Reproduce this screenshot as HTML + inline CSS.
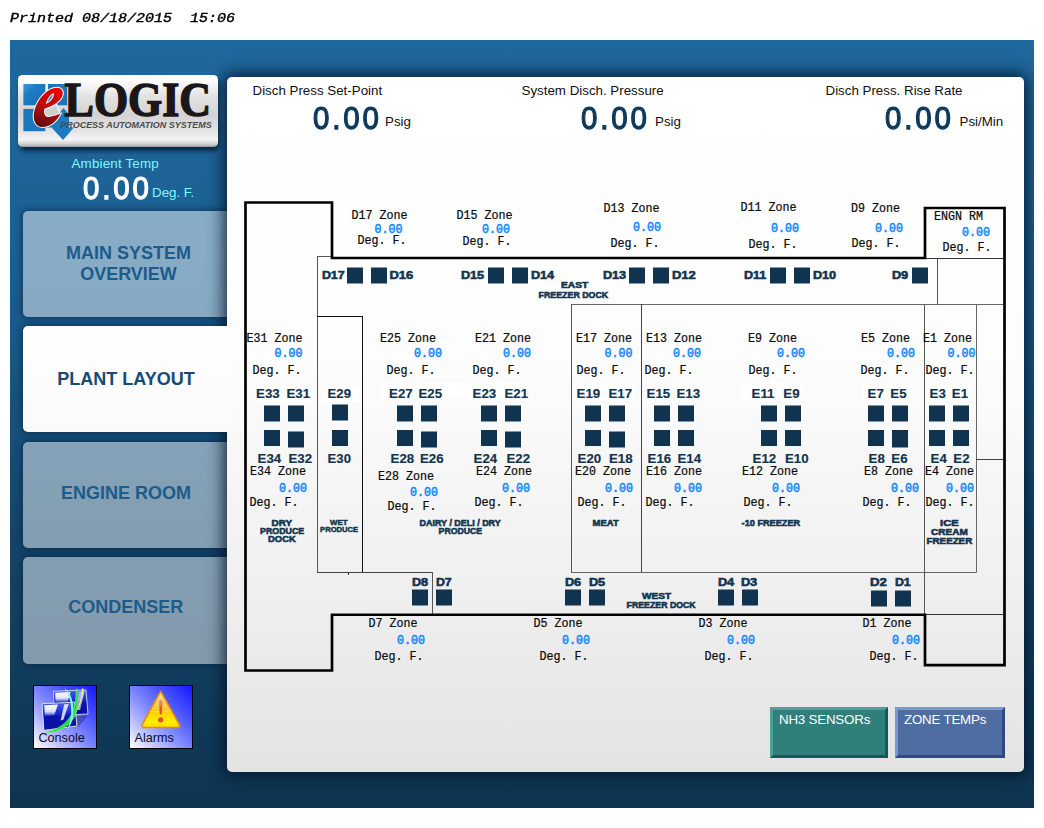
<!DOCTYPE html>
<html lang="en">
<head>
<meta charset="utf-8">
<title>Plant Layout</title>
<style>
html,body{margin:0;padding:0;background:#fff;}
body{width:1044px;height:828px;position:relative;overflow:hidden;font-family:"Liberation Sans",sans-serif;}
.abs{position:absolute;}
#printed{left:10px;top:10px;font:italic normal 15px/18px "Liberation Mono",monospace;color:#000;-webkit-text-stroke:0.45px #000;white-space:pre;transform:scaleY(0.8);transform-origin:0 14px;}
#frame{left:10px;top:40px;width:1024px;height:768px;background:linear-gradient(to bottom,#1f689d 0%,#1b5f91 30%,#13456b 65%,#0e3450 100%);overflow:hidden;}
#panel{left:217px;top:37px;width:797px;height:695px;border-radius:5px;background:linear-gradient(to bottom,#ffffff 0%,#fdfdfd 40%,#f1f1f1 70%,#e3e3e3 100%);box-shadow:0 0 16px 3px rgba(0,15,35,0.85);}
.nav{left:13px;width:215px;height:106.5px;border-radius:5px 0 0 5px;background:rgba(255,255,255,0.48);box-shadow:0 0 7px 1px rgba(5,30,55,0.6);display:flex;align-items:center;justify-content:center;text-align:center;font-weight:bold;font-size:18px;line-height:21px;color:#1c5b8b;}
.nav span{display:block;width:205px;position:relative;}
#tab{left:12.5px;top:286px;width:214.5px;height:106px;border-radius:5px 0 0 5px;background:linear-gradient(to bottom,#ffffff,#fafafa);box-shadow:0 0 7px 1px rgba(5,30,55,0.6);}
#tabfix{left:170px;top:286px;width:52px;height:106px;background:linear-gradient(to bottom,#ffffff,#fafafa);}
#tabtxt{left:12px;top:286.3px;width:208px;height:106px;display:flex;align-items:center;justify-content:center;font-weight:bold;font-size:18px;line-height:21px;color:#154a75;white-space:pre;}
.lbl{font-size:13.33px;line-height:16px;color:#111;white-space:pre;}
.big{font-size:31.7px;line-height:32px;color:#0f3a5d;-webkit-text-stroke:1.25px #0f3a5d;letter-spacing:3.1px;white-space:pre;transform:scaleX(0.93);transform-origin:0 0;}
.cy{color:#7df9ff;}
.btn{box-sizing:border-box;height:50.5px;color:#fff;font-size:13.33px;line-height:16px;padding:2px 0 0 6px;border-style:solid;border-width:3px;white-space:pre;letter-spacing:-0.2px;}
#nh3{left:760px;top:667.5px;width:118px;background:#2f7f7b;border-color:#4f9e98 #0f5c58 #0f5c58 #4f9e98;}
#zt{left:885px;top:667.5px;width:110px;background:#4f6da0;border-color:#7a98cf #2d4a7d #2d4a7d #7a98cf;}
.ico{width:62px;height:62px;border:1px solid #000;background:linear-gradient(to bottom left,#1717ff 0%,#4b55ff 30%,#8f98ff 60%,#ffffff 100%);}
.ico span{position:absolute;left:4.5px;top:45px;font-size:12.6px;line-height:14px;color:#0a0a30;}
svg text{white-space:pre;}
.z{font-family:"Liberation Mono",monospace;font-size:12.3px;fill:#0a0a0a;stroke:#0a0a0a;stroke-width:0.22px;}
.v{font-family:"Liberation Mono",monospace;font-size:12.3px;fill:#1186ff;stroke:#1186ff;stroke-width:0.5px;}
.e{font-family:"Liberation Sans",sans-serif;font-weight:bold;font-size:13.3px;fill:#12344f;stroke:#12344f;stroke-width:0.15px;}
.d{font-family:"Liberation Sans",sans-serif;font-weight:bold;font-size:10.9px;fill:#12344f;stroke:#12344f;stroke-width:0.55px;}
.a8{font-family:"Liberation Sans",sans-serif;font-weight:bold;font-size:8.5px;fill:#12344f;stroke:#12344f;stroke-width:0.55px;}
.a7{font-family:"Liberation Sans",sans-serif;font-weight:bold;font-size:7.4px;fill:#12344f;stroke:#12344f;stroke-width:0.45px;}
.a9{font-family:"Liberation Sans",sans-serif;font-weight:bold;font-size:9.2px;fill:#12344f;stroke:#12344f;stroke-width:0.6px;}
</style>
</head>
<body>
<div id="printed" class="abs">Printed 08/18/2015  15:06</div>
<div id="frame" class="abs">
  <div class="nav abs" style="top:170.5px"><span style="left:-2px;top:0.4px;line-height:21.5px">MAIN SYSTEM<br>OVERVIEW</span></div>
  <div class="nav abs" style="top:401.5px"><span style="left:-4.5px;top:-1px">ENGINE ROOM</span></div>
  <div class="nav abs" style="top:517px"><span style="left:-4.8px;top:-2.3px">CONDENSER</span></div>
  <div id="tab" class="abs"></div>
  <div id="panel" class="abs"></div>
  <div id="tabfix" class="abs"></div>
  <div id="tabtxt" class="abs">PLANT LAYOUT</div>
  <!--LOGO-->
  <div class="abs lbl cy" style="left:61.5px;top:116.1px;letter-spacing:0.2px;">Ambient Temp</div>
  <div class="abs big" style="left:72.6px;top:132.3px;color:#fff;-webkit-text-stroke-color:#fff;">0.00</div>
  <div class="abs lbl cy" style="left:142px;top:145px;">Deg. F.</div>
  <div class="abs ico" style="left:23px;top:645px;"><!--CONSOLE--><span>Console</span></div>
  <div class="abs ico" style="left:119px;top:645px;"><!--ALARM--><span>Alarms</span></div>
</div>
<div class="abs lbl" style="left:252.5px;top:82.6px;">Disch Press Set-Point</div>
<div class="abs big" style="left:312.6px;top:102.2px;">0.00</div>
<div class="abs lbl" style="left:385px;top:113.5px;">Psig</div>
<div class="abs lbl" style="left:521.5px;top:82.6px;">System Disch. Pressure</div>
<div class="abs big" style="left:581.2px;top:102.2px;">0.00</div>
<div class="abs lbl" style="left:655px;top:113.5px;">Psig</div>
<div class="abs lbl" style="left:825.5px;top:82.6px;">Disch Press. Rise Rate</div>
<div class="abs big" style="left:885.2px;top:102.2px;">0.00</div>
<div class="abs lbl" style="left:959.5px;top:113.5px;">Psi/Min</div>
<div id="nh3" class="abs btn" style="left:770px;top:707px;">NH3 SENSORs</div>
<div id="zt" class="abs btn" style="left:895px;top:707px;">ZONE TEMPs</div>
<svg class="abs" style="left:0;top:0" width="1044" height="828" viewBox="0 0 1044 828">
<line x1="317.5" y1="256" x2="317.5" y2="572.5" stroke="#555" stroke-width="1"/>
<line x1="317" y1="256.5" x2="331" y2="256.5" stroke="#555" stroke-width="1"/>
<line x1="317" y1="316.5" x2="363" y2="316.5" stroke="#111" stroke-width="1"/>
<line x1="362.5" y1="316" x2="362.5" y2="572.5" stroke="#111" stroke-width="1"/>
<line x1="317" y1="572.5" x2="432.5" y2="572.5" stroke="#444" stroke-width="1"/>
<line x1="432.5" y1="572" x2="432.5" y2="614" stroke="#555" stroke-width="1"/>
<line x1="348.5" y1="572" x2="348.5" y2="575" stroke="#333" stroke-width="1"/>
<line x1="571.5" y1="304" x2="571.5" y2="572.5" stroke="#555" stroke-width="1"/>
<line x1="571" y1="304.5" x2="1003" y2="304.5" stroke="#666" stroke-width="1"/>
<line x1="641.5" y1="304" x2="641.5" y2="572.5" stroke="#444" stroke-width="1"/>
<line x1="571" y1="572.5" x2="976.5" y2="572.5" stroke="#666" stroke-width="1"/>
<line x1="924.5" y1="304" x2="924.5" y2="614" stroke="#555" stroke-width="1"/>
<line x1="976.5" y1="304" x2="976.5" y2="572.5" stroke="#666" stroke-width="1"/>
<line x1="976" y1="459.5" x2="1003" y2="459.5" stroke="#444" stroke-width="1"/>
<line x1="937.5" y1="258" x2="937.5" y2="304.5" stroke="#555" stroke-width="1"/>
<line x1="926" y1="258.5" x2="1003" y2="258.5" stroke="#333" stroke-width="1"/>
<line x1="926" y1="614.5" x2="1003" y2="614.5" stroke="#333" stroke-width="1"/>
<g fill="none" stroke="#000" stroke-width="2.7" stroke-linejoin="miter" stroke-linecap="butt">
<path d="M332 613.4 V670.5 H245.5 V202.5 H332 V258 H925 V208 H1004.5 V665.2 H925 V614.75 H330.65"/>
</g>
<rect x="347" y="267.5" width="16" height="16" fill="#10344f"/>
<rect x="371" y="267.5" width="16" height="16" fill="#10344f"/>
<rect x="488" y="267.5" width="16" height="16" fill="#10344f"/>
<rect x="512" y="267.5" width="16" height="16" fill="#10344f"/>
<rect x="629" y="267.5" width="16" height="16" fill="#10344f"/>
<rect x="653" y="267.5" width="16" height="16" fill="#10344f"/>
<rect x="770" y="267.5" width="16" height="16" fill="#10344f"/>
<rect x="794" y="267.5" width="16" height="16" fill="#10344f"/>
<rect x="912" y="267.5" width="16" height="16" fill="#10344f"/>
<rect x="264" y="405.5" width="16" height="16" fill="#10344f"/>
<rect x="288" y="405.5" width="16" height="16" fill="#10344f"/>
<rect x="264" y="430" width="16" height="16" fill="#10344f"/>
<rect x="288" y="431.5" width="16" height="16" fill="#10344f"/>
<rect x="397" y="405.5" width="16" height="16" fill="#10344f"/>
<rect x="421" y="405.5" width="16" height="16" fill="#10344f"/>
<rect x="397" y="430" width="16" height="16" fill="#10344f"/>
<rect x="421" y="431.5" width="16" height="16" fill="#10344f"/>
<rect x="481" y="405.5" width="16" height="16" fill="#10344f"/>
<rect x="505" y="405.5" width="16" height="16" fill="#10344f"/>
<rect x="481" y="430" width="16" height="16" fill="#10344f"/>
<rect x="505" y="431.5" width="16" height="16" fill="#10344f"/>
<rect x="585" y="405.5" width="16" height="16" fill="#10344f"/>
<rect x="609" y="405.5" width="16" height="16" fill="#10344f"/>
<rect x="585" y="430" width="16" height="16" fill="#10344f"/>
<rect x="609" y="431.5" width="16" height="16" fill="#10344f"/>
<rect x="654" y="405.5" width="16" height="16" fill="#10344f"/>
<rect x="678" y="405.5" width="16" height="16" fill="#10344f"/>
<rect x="654" y="430" width="16" height="16" fill="#10344f"/>
<rect x="678" y="430" width="16" height="16" fill="#10344f"/>
<rect x="761" y="405.5" width="16" height="16" fill="#10344f"/>
<rect x="785" y="405.5" width="16" height="16" fill="#10344f"/>
<rect x="761" y="430" width="16" height="16" fill="#10344f"/>
<rect x="785" y="430" width="16" height="16" fill="#10344f"/>
<rect x="868" y="405.5" width="16" height="16" fill="#10344f"/>
<rect x="892" y="405.5" width="16" height="16" fill="#10344f"/>
<rect x="868" y="430" width="16" height="16" fill="#10344f"/>
<rect x="892" y="430" width="16" height="16" fill="#10344f"/>
<rect x="929" y="405.5" width="16" height="16" fill="#10344f"/>
<rect x="953" y="405.5" width="16" height="16" fill="#10344f"/>
<rect x="929" y="430" width="16" height="16" fill="#10344f"/>
<rect x="953" y="430" width="16" height="16" fill="#10344f"/>
<rect x="892" y="430" width="16" height="17.5" fill="#10344f"/>
<rect x="332" y="404.5" width="16" height="16" fill="#10344f"/>
<rect x="332" y="430" width="16" height="16" fill="#10344f"/>
<rect x="412" y="589.5" width="16" height="16" fill="#10344f"/>
<rect x="436" y="589.5" width="16" height="16" fill="#10344f"/>
<rect x="565" y="589.5" width="16" height="16" fill="#10344f"/>
<rect x="589" y="589.5" width="16" height="16" fill="#10344f"/>
<rect x="718" y="589.5" width="16" height="16" fill="#10344f"/>
<rect x="742" y="589.5" width="16" height="16" fill="#10344f"/>
<rect x="871" y="590.5" width="16" height="16" fill="#10344f"/>
<rect x="895" y="590.5" width="16" height="16" fill="#10344f"/>
<rect x="255" y="386.5" width="55" height="15.5" fill="#fff" opacity="0.85"/>
<rect x="321" y="386.5" width="38" height="15.5" fill="#fff" opacity="0.85"/>
<rect x="380" y="383" width="127" height="15.5" fill="#fff" opacity="0.85"/>
<rect x="473" y="383" width="54" height="15.5" fill="#fff" opacity="0.85"/>
<rect x="575" y="385" width="59" height="15" fill="#fff" opacity="0.85"/>
<rect x="645" y="385" width="57" height="15" fill="#fff" opacity="0.85"/>
<rect x="740" y="383" width="62" height="16" fill="#fff" opacity="0.85"/>
<rect x="862" y="385" width="50" height="15" fill="#fff" opacity="0.85"/>
<rect x="927" y="385" width="44" height="15" fill="#fff" opacity="0.85"/>
<text x="351.5" y="218.5" class="z" textLength="56" lengthAdjust="spacingAndGlyphs" xml:space="preserve">D17 Zone</text>
<text x="374.5" y="232.5" class="v" textLength="28" lengthAdjust="spacingAndGlyphs" xml:space="preserve">0.00</text>
<text x="357.5" y="244" class="z" textLength="49" lengthAdjust="spacingAndGlyphs" xml:space="preserve">Deg. F.</text>
<text x="456.5" y="219" class="z" textLength="56" lengthAdjust="spacingAndGlyphs" xml:space="preserve">D15 Zone</text>
<text x="482.0" y="233" class="v" textLength="28" lengthAdjust="spacingAndGlyphs" xml:space="preserve">0.00</text>
<text x="462.5" y="245" class="z" textLength="49" lengthAdjust="spacingAndGlyphs" xml:space="preserve">Deg. F.</text>
<text x="603.5" y="212" class="z" textLength="56" lengthAdjust="spacingAndGlyphs" xml:space="preserve">D13 Zone</text>
<text x="633.0" y="231" class="v" textLength="28" lengthAdjust="spacingAndGlyphs" xml:space="preserve">0.00</text>
<text x="610.5" y="247" class="z" textLength="49" lengthAdjust="spacingAndGlyphs" xml:space="preserve">Deg. F.</text>
<text x="740.5" y="211" class="z" textLength="56" lengthAdjust="spacingAndGlyphs" xml:space="preserve">D11 Zone</text>
<text x="771.0" y="232" class="v" textLength="28" lengthAdjust="spacingAndGlyphs" xml:space="preserve">0.00</text>
<text x="748.5" y="248" class="z" textLength="49" lengthAdjust="spacingAndGlyphs" xml:space="preserve">Deg. F.</text>
<text x="851.0" y="212" class="z" textLength="49" lengthAdjust="spacingAndGlyphs" xml:space="preserve">D9 Zone</text>
<text x="875.0" y="232" class="v" textLength="28" lengthAdjust="spacingAndGlyphs" xml:space="preserve">0.00</text>
<text x="851.5" y="246.5" class="z" textLength="49" lengthAdjust="spacingAndGlyphs" xml:space="preserve">Deg. F.</text>
<text x="934.0" y="220" class="z" textLength="49" lengthAdjust="spacingAndGlyphs" xml:space="preserve">ENGN RM</text>
<text x="962.0" y="236" class="v" textLength="28" lengthAdjust="spacingAndGlyphs" xml:space="preserve">0.00</text>
<text x="942.5" y="251" class="z" textLength="49" lengthAdjust="spacingAndGlyphs" xml:space="preserve">Deg. F.</text>
<text x="246.5" y="342" class="z" textLength="56" lengthAdjust="spacingAndGlyphs" xml:space="preserve">E31 Zone</text>
<text x="274.5" y="357" class="v" textLength="28" lengthAdjust="spacingAndGlyphs" xml:space="preserve">0.00</text>
<text x="252.5" y="374" class="z" textLength="49" lengthAdjust="spacingAndGlyphs" xml:space="preserve">Deg. F.</text>
<text x="380.0" y="342" class="z" textLength="56" lengthAdjust="spacingAndGlyphs" xml:space="preserve">E25 Zone</text>
<text x="414.0" y="357" class="v" textLength="28" lengthAdjust="spacingAndGlyphs" xml:space="preserve">0.00</text>
<text x="386.5" y="374" class="z" textLength="49" lengthAdjust="spacingAndGlyphs" xml:space="preserve">Deg. F.</text>
<text x="475.0" y="342" class="z" textLength="56" lengthAdjust="spacingAndGlyphs" xml:space="preserve">E21 Zone</text>
<text x="503.0" y="357" class="v" textLength="28" lengthAdjust="spacingAndGlyphs" xml:space="preserve">0.00</text>
<text x="472.5" y="374" class="z" textLength="49" lengthAdjust="spacingAndGlyphs" xml:space="preserve">Deg. F.</text>
<text x="576.0" y="342" class="z" textLength="56" lengthAdjust="spacingAndGlyphs" xml:space="preserve">E17 Zone</text>
<text x="604.5" y="357" class="v" textLength="28" lengthAdjust="spacingAndGlyphs" xml:space="preserve">0.00</text>
<text x="576.5" y="374" class="z" textLength="49" lengthAdjust="spacingAndGlyphs" xml:space="preserve">Deg. F.</text>
<text x="646.0" y="342" class="z" textLength="56" lengthAdjust="spacingAndGlyphs" xml:space="preserve">E13 Zone</text>
<text x="673.0" y="357" class="v" textLength="28" lengthAdjust="spacingAndGlyphs" xml:space="preserve">0.00</text>
<text x="644.5" y="374" class="z" textLength="49" lengthAdjust="spacingAndGlyphs" xml:space="preserve">Deg. F.</text>
<text x="748.0" y="342" class="z" textLength="49" lengthAdjust="spacingAndGlyphs" xml:space="preserve">E9 Zone</text>
<text x="777.0" y="357" class="v" textLength="28" lengthAdjust="spacingAndGlyphs" xml:space="preserve">0.00</text>
<text x="748.5" y="374" class="z" textLength="49" lengthAdjust="spacingAndGlyphs" xml:space="preserve">Deg. F.</text>
<text x="861.0" y="342" class="z" textLength="49" lengthAdjust="spacingAndGlyphs" xml:space="preserve">E5 Zone</text>
<text x="887.0" y="357" class="v" textLength="28" lengthAdjust="spacingAndGlyphs" xml:space="preserve">0.00</text>
<text x="860.5" y="374" class="z" textLength="49" lengthAdjust="spacingAndGlyphs" xml:space="preserve">Deg. F.</text>
<text x="923.0" y="342" class="z" textLength="49" lengthAdjust="spacingAndGlyphs" xml:space="preserve">E1 Zone</text>
<text x="947.5" y="357" class="v" textLength="28" lengthAdjust="spacingAndGlyphs" xml:space="preserve">0.00</text>
<text x="925.5" y="374" class="z" textLength="49" lengthAdjust="spacingAndGlyphs" xml:space="preserve">Deg. F.</text>
<text x="250.0" y="475" class="z" textLength="56" lengthAdjust="spacingAndGlyphs" xml:space="preserve">E34 Zone</text>
<text x="279.0" y="491.5" class="v" textLength="28" lengthAdjust="spacingAndGlyphs" xml:space="preserve">0.00</text>
<text x="249.5" y="506" class="z" textLength="49" lengthAdjust="spacingAndGlyphs" xml:space="preserve">Deg. F.</text>
<text x="378.0" y="479.5" class="z" textLength="56" lengthAdjust="spacingAndGlyphs" xml:space="preserve">E28 Zone</text>
<text x="410.0" y="495.5" class="v" textLength="28" lengthAdjust="spacingAndGlyphs" xml:space="preserve">0.00</text>
<text x="387.5" y="510" class="z" textLength="49" lengthAdjust="spacingAndGlyphs" xml:space="preserve">Deg. F.</text>
<text x="476.0" y="475" class="z" textLength="56" lengthAdjust="spacingAndGlyphs" xml:space="preserve">E24 Zone</text>
<text x="502.0" y="491.5" class="v" textLength="28" lengthAdjust="spacingAndGlyphs" xml:space="preserve">0.00</text>
<text x="474.5" y="506" class="z" textLength="49" lengthAdjust="spacingAndGlyphs" xml:space="preserve">Deg. F.</text>
<text x="575.0" y="475" class="z" textLength="56" lengthAdjust="spacingAndGlyphs" xml:space="preserve">E20 Zone</text>
<text x="605.0" y="491.5" class="v" textLength="28" lengthAdjust="spacingAndGlyphs" xml:space="preserve">0.00</text>
<text x="577.5" y="506" class="z" textLength="49" lengthAdjust="spacingAndGlyphs" xml:space="preserve">Deg. F.</text>
<text x="646.0" y="475" class="z" textLength="56" lengthAdjust="spacingAndGlyphs" xml:space="preserve">E16 Zone</text>
<text x="674.0" y="491.5" class="v" textLength="28" lengthAdjust="spacingAndGlyphs" xml:space="preserve">0.00</text>
<text x="645.5" y="506" class="z" textLength="49" lengthAdjust="spacingAndGlyphs" xml:space="preserve">Deg. F.</text>
<text x="742.0" y="475" class="z" textLength="56" lengthAdjust="spacingAndGlyphs" xml:space="preserve">E12 Zone</text>
<text x="772.0" y="491.5" class="v" textLength="28" lengthAdjust="spacingAndGlyphs" xml:space="preserve">0.00</text>
<text x="743.5" y="506" class="z" textLength="49" lengthAdjust="spacingAndGlyphs" xml:space="preserve">Deg. F.</text>
<text x="864.0" y="475" class="z" textLength="49" lengthAdjust="spacingAndGlyphs" xml:space="preserve">E8 Zone</text>
<text x="891.0" y="491.5" class="v" textLength="28" lengthAdjust="spacingAndGlyphs" xml:space="preserve">0.00</text>
<text x="862.5" y="506" class="z" textLength="49" lengthAdjust="spacingAndGlyphs" xml:space="preserve">Deg. F.</text>
<text x="925.0" y="475" class="z" textLength="49" lengthAdjust="spacingAndGlyphs" xml:space="preserve">E4 Zone</text>
<text x="946.0" y="491.5" class="v" textLength="28" lengthAdjust="spacingAndGlyphs" xml:space="preserve">0.00</text>
<text x="925.5" y="506" class="z" textLength="49" lengthAdjust="spacingAndGlyphs" xml:space="preserve">Deg. F.</text>
<text x="368.5" y="627" class="z" textLength="49" lengthAdjust="spacingAndGlyphs" xml:space="preserve">D7 Zone</text>
<text x="397.0" y="644" class="v" textLength="28" lengthAdjust="spacingAndGlyphs" xml:space="preserve">0.00</text>
<text x="374.5" y="660" class="z" textLength="49" lengthAdjust="spacingAndGlyphs" xml:space="preserve">Deg. F.</text>
<text x="533.5" y="627" class="z" textLength="49" lengthAdjust="spacingAndGlyphs" xml:space="preserve">D5 Zone</text>
<text x="562.0" y="644" class="v" textLength="28" lengthAdjust="spacingAndGlyphs" xml:space="preserve">0.00</text>
<text x="539.5" y="660" class="z" textLength="49" lengthAdjust="spacingAndGlyphs" xml:space="preserve">Deg. F.</text>
<text x="698.5" y="627" class="z" textLength="49" lengthAdjust="spacingAndGlyphs" xml:space="preserve">D3 Zone</text>
<text x="727.0" y="644" class="v" textLength="28" lengthAdjust="spacingAndGlyphs" xml:space="preserve">0.00</text>
<text x="704.5" y="660" class="z" textLength="49" lengthAdjust="spacingAndGlyphs" xml:space="preserve">Deg. F.</text>
<text x="862.5" y="627" class="z" textLength="49" lengthAdjust="spacingAndGlyphs" xml:space="preserve">D1 Zone</text>
<text x="892.0" y="644" class="v" textLength="28" lengthAdjust="spacingAndGlyphs" xml:space="preserve">0.00</text>
<text x="869.5" y="660" class="z" textLength="49" lengthAdjust="spacingAndGlyphs" xml:space="preserve">Deg. F.</text>
<text x="256.1" y="397.5" class="e" xml:space="preserve">E33</text>
<text x="310.1" y="397.5" class="e" text-anchor="end" xml:space="preserve">E31</text>
<text x="327.6" y="397.5" class="e" textLength="23.4" lengthAdjust="spacingAndGlyphs" xml:space="preserve">E29</text>
<text x="389.1" y="397.5" class="e" xml:space="preserve">E27</text>
<text x="442.1" y="397.5" class="e" text-anchor="end" xml:space="preserve">E25</text>
<text x="472.6" y="397.5" class="e" xml:space="preserve">E23</text>
<text x="528.1" y="397.5" class="e" text-anchor="end" xml:space="preserve">E21</text>
<text x="576.6" y="397.5" class="e" xml:space="preserve">E19</text>
<text x="632.1" y="397.5" class="e" text-anchor="end" xml:space="preserve">E17</text>
<text x="646.6" y="397.5" class="e" xml:space="preserve">E15</text>
<text x="700.1" y="397.5" class="e" text-anchor="end" xml:space="preserve">E13</text>
<text x="751.6" y="397.5" class="e" xml:space="preserve">E11</text>
<text x="799.6" y="397.5" class="e" text-anchor="end" xml:space="preserve">E9</text>
<text x="867.6" y="397.5" class="e" xml:space="preserve">E7</text>
<text x="906.6" y="397.5" class="e" text-anchor="end" xml:space="preserve">E5</text>
<text x="929.6" y="397.5" class="e" xml:space="preserve">E3</text>
<text x="968.1" y="397.5" class="e" text-anchor="end" xml:space="preserve">E1</text>
<text x="257.6" y="462.5" class="e" xml:space="preserve">E34</text>
<text x="312.1" y="462.5" class="e" text-anchor="end" xml:space="preserve">E32</text>
<text x="327.6" y="462.5" class="e" textLength="23.4" lengthAdjust="spacingAndGlyphs" xml:space="preserve">E30</text>
<text x="390.6" y="462.5" class="e" xml:space="preserve">E28</text>
<text x="443.6" y="462.5" class="e" text-anchor="end" xml:space="preserve">E26</text>
<text x="473.6" y="462.5" class="e" xml:space="preserve">E24</text>
<text x="530.1" y="462.5" class="e" text-anchor="end" xml:space="preserve">E22</text>
<text x="577.6" y="462.5" class="e" xml:space="preserve">E20</text>
<text x="632.6" y="462.5" class="e" text-anchor="end" xml:space="preserve">E18</text>
<text x="647.6" y="462.5" class="e" xml:space="preserve">E16</text>
<text x="701.1" y="462.5" class="e" text-anchor="end" xml:space="preserve">E14</text>
<text x="752.6" y="462.5" class="e" xml:space="preserve">E12</text>
<text x="808.6" y="462.5" class="e" text-anchor="end" xml:space="preserve">E10</text>
<text x="868.6" y="462.5" class="e" xml:space="preserve">E8</text>
<text x="907.6" y="462.5" class="e" text-anchor="end" xml:space="preserve">E6</text>
<text x="930.6" y="462.5" class="e" xml:space="preserve">E4</text>
<text x="969.6" y="462.5" class="e" text-anchor="end" xml:space="preserve">E2</text>
<text x="321.9" y="279" class="d" textLength="22.8" lengthAdjust="spacingAndGlyphs" xml:space="preserve">D17</text>
<text x="389.4" y="279" class="d" textLength="23.8" lengthAdjust="spacingAndGlyphs" xml:space="preserve">D16</text>
<text x="460.9" y="279" class="d" textLength="23.3" lengthAdjust="spacingAndGlyphs" xml:space="preserve">D15</text>
<text x="530.9" y="279" class="d" textLength="23.3" lengthAdjust="spacingAndGlyphs" xml:space="preserve">D14</text>
<text x="602.9" y="279" class="d" textLength="23.3" lengthAdjust="spacingAndGlyphs" xml:space="preserve">D13</text>
<text x="671.9" y="279" class="d" textLength="23.8" lengthAdjust="spacingAndGlyphs" xml:space="preserve">D12</text>
<text x="743.9" y="279" class="d" textLength="22.3" lengthAdjust="spacingAndGlyphs" xml:space="preserve">D11</text>
<text x="812.9" y="279" class="d" textLength="23.3" lengthAdjust="spacingAndGlyphs" xml:space="preserve">D10</text>
<text x="891.9" y="279" class="d" textLength="16.3" lengthAdjust="spacingAndGlyphs" xml:space="preserve">D9</text>
<text x="411.9" y="585.5" class="d" textLength="16.3" lengthAdjust="spacingAndGlyphs" xml:space="preserve">D8</text>
<text x="435.9" y="585.5" class="d" textLength="15.8" lengthAdjust="spacingAndGlyphs" xml:space="preserve">D7</text>
<text x="564.9" y="585.5" class="d" textLength="16.3" lengthAdjust="spacingAndGlyphs" xml:space="preserve">D6</text>
<text x="588.9" y="585.5" class="d" textLength="16.3" lengthAdjust="spacingAndGlyphs" xml:space="preserve">D5</text>
<text x="717.9" y="585.5" class="d" textLength="16.3" lengthAdjust="spacingAndGlyphs" xml:space="preserve">D4</text>
<text x="740.9" y="585.5" class="d" textLength="16.3" lengthAdjust="spacingAndGlyphs" xml:space="preserve">D3</text>
<text x="869.9" y="586" class="d" textLength="16.8" lengthAdjust="spacingAndGlyphs" xml:space="preserve">D2</text>
<text x="894.9" y="586" class="d" textLength="15.8" lengthAdjust="spacingAndGlyphs" xml:space="preserve">D1</text>
<text x="561.1" y="287.5" class="a8" textLength="27.1" lengthAdjust="spacingAndGlyphs" xml:space="preserve">EAST</text>
<text x="538.6" y="298" class="a8" textLength="69.6" lengthAdjust="spacingAndGlyphs" xml:space="preserve">FREEZER DOCK</text>
<text x="271.6" y="526" class="a8" textLength="20.6" lengthAdjust="spacingAndGlyphs" xml:space="preserve">DRY</text>
<text x="260.1" y="534" class="a8" textLength="44.1" lengthAdjust="spacingAndGlyphs" xml:space="preserve">PRODUCE</text>
<text x="268.1" y="542" class="a8" textLength="27.6" lengthAdjust="spacingAndGlyphs" xml:space="preserve">DOCK</text>
<text x="330.1" y="525" class="a7" textLength="17.6" lengthAdjust="spacingAndGlyphs" xml:space="preserve">WET</text>
<text x="320.1" y="532" class="a7" textLength="38.1" lengthAdjust="spacingAndGlyphs" xml:space="preserve">PRODUCE</text>
<text x="419.6" y="526" class="a8" textLength="81.1" lengthAdjust="spacingAndGlyphs" xml:space="preserve">DAIRY / DELI / DRY</text>
<text x="438.6" y="534" class="a8" textLength="43.6" lengthAdjust="spacingAndGlyphs" xml:space="preserve">PRODUCE</text>
<text x="592.6" y="526" class="a8" textLength="26.1" lengthAdjust="spacingAndGlyphs" xml:space="preserve">MEAT</text>
<text x="741.6" y="526" class="a8" textLength="58.6" lengthAdjust="spacingAndGlyphs" xml:space="preserve">-10 FREEZER</text>
<text x="940.1" y="526" class="a9" textLength="18.6" lengthAdjust="spacingAndGlyphs" xml:space="preserve">ICE</text>
<text x="931.1" y="535" class="a9" textLength="36.6" lengthAdjust="spacingAndGlyphs" xml:space="preserve">CREAM</text>
<text x="926.6" y="544" class="a9" textLength="45.6" lengthAdjust="spacingAndGlyphs" xml:space="preserve">FREEZER</text>
<text x="642.1" y="599" class="a8" textLength="29.1" lengthAdjust="spacingAndGlyphs" xml:space="preserve">WEST</text>
<text x="626.6" y="608" class="a8" textLength="69.1" lengthAdjust="spacingAndGlyphs" xml:space="preserve">FREEZER DOCK</text>
<defs>
<linearGradient id="lgPlate" x1="0" y1="0" x2="0" y2="1">
<stop offset="0" stop-color="#ffffff"/><stop offset="0.10" stop-color="#fbfbfb"/><stop offset="0.30" stop-color="#e2e2e2"/>
<stop offset="0.55" stop-color="#d3d3d3"/><stop offset="0.78" stop-color="#e4e4e4"/><stop offset="0.90" stop-color="#f4f4f4"/>
<stop offset="0.96" stop-color="#d0d0d0"/><stop offset="1" stop-color="#9a9a9a"/></linearGradient>
<linearGradient id="lgSq" x1="0" y1="0" x2="1" y2="1"><stop offset="0" stop-color="#3b9ade"/><stop offset="0.35" stop-color="#1c7cc3"/><stop offset="1" stop-color="#166db0"/></linearGradient>
<linearGradient id="lgE" x1="0.6" y1="0" x2="0.3" y2="1"><stop offset="0" stop-color="#ea0000"/><stop offset="0.45" stop-color="#c40808"/><stop offset="1" stop-color="#5e0a0a"/></linearGradient>
<filter id="fSh" x="-10%" y="-20%" width="120%" height="150%"><feGaussianBlur stdDeviation="2.2"/></filter>
<filter id="fSoft" x="-10%" y="-10%" width="120%" height="120%"><feGaussianBlur stdDeviation="0.35"/></filter>
</defs>
<rect x="20" y="80" width="199" height="71" rx="5" fill="#04182c" opacity="0.75" filter="url(#fSh)"/>
<rect x="18" y="75" width="200" height="72" rx="4.5" fill="url(#lgPlate)"/>
<g filter="url(#fSoft)">
<rect x="23.4" y="84" width="21.9" height="21.3" fill="url(#lgSq)"/>
<rect x="48" y="84" width="19.2" height="21.3" fill="#1a76bc"/>
<rect x="23.4" y="108.9" width="21.9" height="22.3" fill="#1a78be"/>
<path d="M63.6 108 L67.6 113 L69 113 L69 127.6 L73.9 127.6 L63.1 139.9 L51.5 127.6 L45.3 127.6 L45.3 120 L57 120 L57 113 L59.4 113 Z" fill="#1b7ac0"/>
<g transform="translate(63.6 127.5) scale(1.08 1.02) translate(-63.6 -127.5)">
<path d="M45.88,109.75 C50.17,108.41 54.64,106.17 57.32,104.83 L60.00,113.32 C56.43,116.00 52.85,118.68 49.28,118.50 C46.15,117.79 45.26,113.32 45.88,109.75 Z" fill="#cfcfcf" stroke="#fff" stroke-width="1"/>
<path d="M60.72,114.04 C57.77,120.02 52.41,126.55 44.81,126.90 C37.21,127.17 34.98,119.58 36.32,112.43 C37.84,103.49 44.81,92.32 54.19,89.01 C59.55,87.23 63.76,90.09 62.68,95.45 C61.61,101.26 53.75,106.62 45.88,109.03 C44.63,113.32 46.42,117.61 50.17,117.25 C54.19,116.72 57.77,114.66 60.72,114.04 Z M47.04,104.38 C47.94,100.36 51.24,95.00 53.92,93.84 C55.35,93.66 54.46,97.41 52.85,99.92 C51.24,102.42 49.10,103.94 47.04,104.38 Z" fill="url(#lgE)" fill-rule="evenodd" stroke="#f4f4f4" stroke-width="2" paint-order="stroke"/>
</g>
</g>
<text x="64.6" y="116.2" font-family="Liberation Serif,serif" font-weight="bold" font-size="48.5" fill="#1b1718" stroke="#1b1718" stroke-width="1.5" textLength="146.5" lengthAdjust="spacingAndGlyphs">LOGIC</text>
<text x="60.2" y="127.6" font-family="Liberation Sans,sans-serif" font-weight="bold" font-style="italic" font-size="8.9" fill="#4b4b4b" textLength="151.5" lengthAdjust="spacingAndGlyphs" xml:space="preserve">PROCESS AUTOMATION SYSTEMS</text>
<defs>
<linearGradient id="lgMon" x1="0" y1="0" x2="0" y2="1"><stop offset="0" stop-color="#4a62ee"/><stop offset="0.45" stop-color="#1020c8"/><stop offset="0.5" stop-color="#0a12a8"/><stop offset="1" stop-color="#0a10a0"/></linearGradient>
<linearGradient id="lgGloss" x1="0" y1="0" x2="0" y2="1"><stop offset="0" stop-color="#fff" stop-opacity="1"/><stop offset="0.6" stop-color="#fff" stop-opacity="0.85"/><stop offset="1" stop-color="#fff" stop-opacity="0.1"/></linearGradient>
<filter id="fB" x="-20%" y="-20%" width="140%" height="140%"><feGaussianBlur stdDeviation="0.5"/></filter>
</defs>
<polygon points="53.36,691.32 85.97,689.96 87.96,713.97 54.45,715.51" fill="url(#lgMon)" stroke="#d8d8e0" stroke-width="0.9"/>
<polygon points="55.17,692.68 70.57,692.05 67.86,701.74 55.54,702.28" fill="url(#lgGloss)"/>
<polygon points="78.72,691.59 84.61,691.23 80.08,709.89 76.91,710.07" fill="#fff" opacity="0.6"/>
<polygon points="45.21,730.72 78.72,726.65 87.78,715.33 76.91,716.23" fill="#000" opacity="0.25" filter="url(#fB)"/>
<polygon points="42.04,703.73 74.65,702.19 76.91,726.01 43.94,730.36" fill="url(#lgMon)" stroke="#dcdce4" stroke-width="1"/>
<polygon points="44.30,705.18 57.89,704.46 54.27,715.33 44.85,716.05" fill="url(#lgGloss)"/>
<polygon points="64.23,704.28 68.76,704.09 63.33,719.86 60.61,720.40" fill="#fff" opacity="0.8"/>
<path d="M46.12,733.08 C58.80,732.72 71.93,725.29 75.83,713.51 C78.00,706.27 78.36,696.30 77.46,689.06 L76.19,689.24 C76.37,696.30 75.10,705.36 72.75,711.70 C68.31,722.57 57.89,729.82 46.12,732.17 Z" fill="#20e234" stroke="#7df58f" stroke-width="0.6"/>
<path d="M64.96,688.15 C71.30,692.50 74.20,703.55 73.29,714.42 C72.57,720.94 70.39,726.38 66.77,730.00 C68.94,725.29 70.57,719.86 71.12,714.42 C71.75,704.46 69.49,694.49 64.96,688.88 Z" fill="#7cf4f4"/>
<path d="M81.99,688.33 C81.44,698.12 79.27,706.27 74.56,714.24 C80.08,707.17 82.89,698.12 83.62,688.70 Z" fill="#f4f27c"/>
<defs>
<linearGradient id="lgTri" x1="0" y1="0" x2="0" y2="1"><stop offset="0" stop-color="#ffe9a0"/><stop offset="0.52" stop-color="#ffc62a"/><stop offset="0.54" stop-color="#ffcc00"/><stop offset="0.85" stop-color="#fff000"/><stop offset="1" stop-color="#ffd800"/></linearGradient>
<linearGradient id="lgEx" x1="0" y1="0" x2="0" y2="1"><stop offset="0" stop-color="#e9a58c"/><stop offset="0.6" stop-color="#e25a28"/><stop offset="1" stop-color="#e0501c"/></linearGradient>
</defs>
<path d="M160.68,691.32 L179.43,724.84 Q180.16,727.28 177.44,727.55 L144.38,727.55 Q141.39,727.28 142.12,724.84 Z" fill="url(#lgTri)" stroke="#f08c00" stroke-width="1.6" stroke-linejoin="round"/>
<path d="M149.82,711.25 Q160.23,712.61 171.55,710.34" fill="none" stroke="#fff3c0" stroke-width="0.5" opacity="0.8"/>
<path d="M158.87,700.38 Q160.68,698.12 162.77,700.38 L161.68,714.42 L159.87,714.42 Z" fill="url(#lgEx)"/>
<circle cx="160.68" cy="719.86" r="2.7" fill="#e0521c"/>
</svg>
</body>
</html>
